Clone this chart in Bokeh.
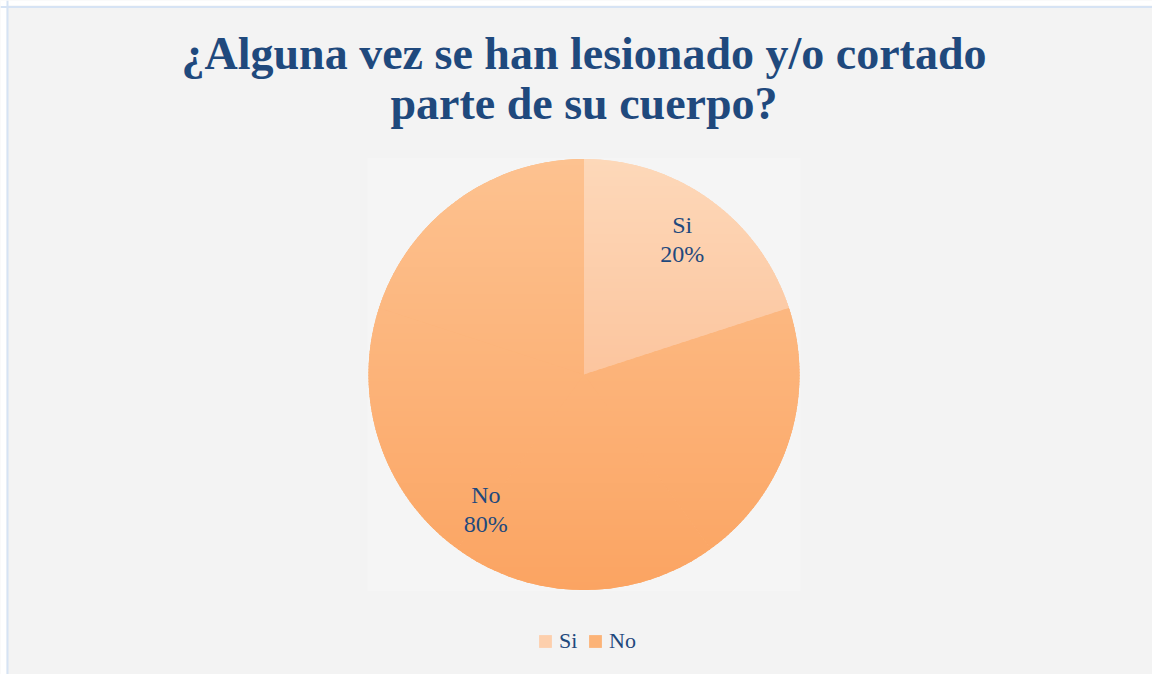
import math
from bokeh.plotting import figure
from bokeh.models import Range1d, Label, Legend, LegendItem, ColumnDataSource, Span
from bokeh.embed import file_html
from bokeh.resources import INLINE
from bokeh.core.properties import value

# ---- data ----
categories = ["Si", "No"]
values = [20, 80]
title_lines = ["¿Alguna vez se han lesionado y/o cortado", "parte de su cuerpo?"]
colors_top = ["#fdd8b9", "#fdc290"]
colors_bottom = ["#fcc59e", "#fba462"]
colors_mid = ["#fdcfac", "#fcb377"]

# ---- layout ----
W, H = 1152, 674
CX, CY, R = 583.5, 300.0, 215.5
TEXT_COLOR = "#1f497d"
FONT = "Liberation Serif"

p = figure(width=W, height=H, x_range=Range1d(0, W), y_range=Range1d(0, H),
           output_backend="svg", toolbar_location=None, min_border=0,
           x_axis_location=None, y_axis_location=None)
p.grid.visible = False
p.background_fill_color = "#f3f3f3"
p.border_fill_color = "#ffffff"
p.outline_line_color = None

# white page strip outside the chart box (left / top)
p.quad(left=[0, 0], right=[6, W], bottom=[0, H - 5], top=[H, H],
       fill_color="#ffffff", line_color=None)

# plot-area background
p.quad(left=[CX - R - 1], right=[CX + R + 1], bottom=[CY - R - 1], top=[CY + R + 1],
       fill_color="#f5f5f5", line_color=None)

total = float(sum(values))
starts, ends = [], []
cum = 0.0
for v in values:
    a0 = math.pi / 2 - 2 * math.pi * cum / total
    cum += v
    a1 = math.pi / 2 - 2 * math.pi * cum / total
    starts.append(a0)
    ends.append(a1)

src = ColumnDataSource(dict(x=[CX] * len(values), y=[CY] * len(values),
                            start=starts, end=ends, color=colors_mid,
                            label=categories))
base = p.wedge(x="x", y="y", radius=R, start_angle="start", end_angle="end",
               direction="clock", fill_color="color", line_color=None, source=src)


def hex2rgb(h):
    h = h.lstrip("#")
    return tuple(int(h[i:i + 2], 16) for i in (0, 2, 4))


def lerp_color(c0, c1, t):
    a, b = hex2rgb(c0), hex2rgb(c1)
    return "#%02x%02x%02x" % tuple(int(round(a[i] + (b[i] - a[i]) * t)) for i in range(3))


def wedge_poly(a0, a1):
    n = max(4, int(abs(a0 - a1) / (math.pi / 180)))
    pts = [(CX, CY)]
    for k in range(n + 1):
        a = a0 + (a1 - a0) * k / n
        pts.append((CX + R * math.cos(a), CY + R * math.sin(a)))
    return pts


def clip(poly, yv, keep_above):
    out = []
    n = len(poly)
    for i in range(n):
        cur, prev = poly[i], poly[i - 1]
        cin = cur[1] >= yv if keep_above else cur[1] <= yv
        pin = prev[1] >= yv if keep_above else prev[1] <= yv
        if cin != pin:
            t = (yv - prev[1]) / (cur[1] - prev[1])
            out.append((prev[0] + t * (cur[0] - prev[0]), yv))
        if cin:
            out.append(cur)
    return out


# gradient overlay, per slice over its own bounding box
for i in range(len(values)):
    a0, a1 = starts[i], ends[i]
    nparts = int(math.ceil(abs(a0 - a1) / (math.pi / 2)))
    pieces = [wedge_poly(a0 + (a1 - a0) * k / nparts, a0 + (a1 - a0) * (k + 1) / nparts)
              for k in range(nparts)]
    ys_all = [pt[1] for pc in pieces for pt in pc]
    ytop, ybot = max(ys_all), min(ys_all)
    step = 3.0
    xs_l, ys_l, cols = [], [], []
    yy = ytop
    while yy > ybot:
        lo = max(ybot, yy - step - 1.0)
        t = (ytop - (yy - step / 2)) / (ytop - ybot)
        t = min(max(t, 0), 1)
        col = lerp_color(colors_top[i], colors_bottom[i], t)
        for pc in pieces:
            q = clip(clip(pc, yy, False), lo, True)
            if len(q) >= 3:
                xs_l.append([pt[0] for pt in q])
                ys_l.append([pt[1] for pt in q])
                cols.append(col)
        yy -= step
    p.patches(xs_l, ys_l, fill_color=cols, line_color=None)

# data labels
lx, ly, lt = [], [], []
cum = 0.0
for c, v in zip(categories, values):
    mid = math.pi / 2 - 2 * math.pi * (cum + v / 2) / total
    cum += v
    lx.append(CX + 0.775 * R * math.cos(mid))
    ly.append(CY + 0.775 * R * math.sin(mid))
    lt.append("%s\n%d%%" % (c, round(100 * v / total)))
p.text(x=lx, y=ly, text=lt, text_align="center", text_baseline="middle",
       text_font=value(FONT), text_font_size="24px", text_color=TEXT_COLOR,
       text_line_height=1.1)

# title
p.add_layout(Label(x=CX, y=621, text=title_lines[0], text_align="center",
                   text_baseline="alphabetic", text_font=FONT, text_font_size="46px",
                   text_font_style="bold", text_color=TEXT_COLOR))
p.add_layout(Label(x=CX, y=571, text=title_lines[1], text_align="center",
                   text_baseline="alphabetic", text_font=FONT, text_font_size="46px",
                   text_font_style="bold", text_color=TEXT_COLOR))

# legend
items = [LegendItem(label=c, renderers=[base], index=i) for i, c in enumerate(categories)]
legend = Legend(items=items, orientation="horizontal", location=(537, 20),
                glyph_width=16, glyph_height=16, label_standoff=6, spacing=8,
                padding=0, margin=0, background_fill_alpha=0, border_line_color=None,
                label_text_font=FONT, label_text_font_size="22px",
                label_text_color=TEXT_COLOR)
p.add_layout(legend)

# chart border (top / left)
p.add_layout(Span(location=H - 6.5, dimension="width", line_color="#d6e3f4", line_width=2))
p.add_layout(Span(location=7, dimension="height", line_color="#d6e3f4", line_width=2))

open("out.html", "w").write(file_html(p, INLINE))
